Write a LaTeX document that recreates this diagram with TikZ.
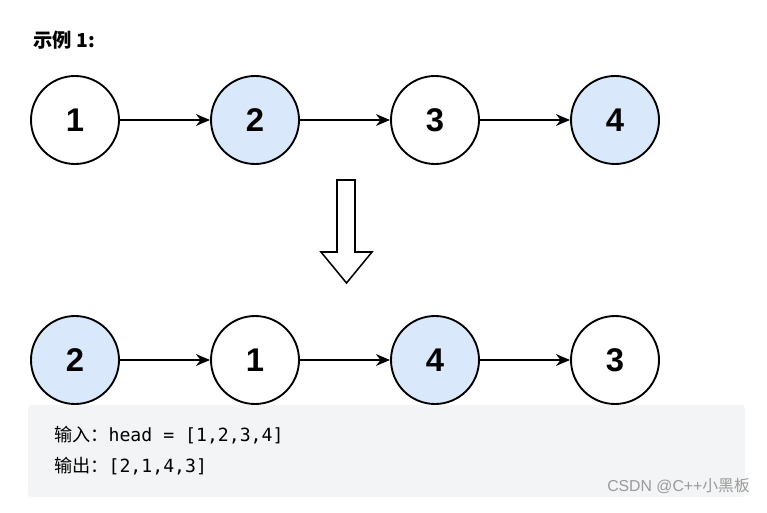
\documentclass[tikz,border=0pt]{standalone}
\usepackage{fontspec}
\setmainfont{Liberation Sans}
\setmonofont{DejaVu Sans Mono}
\newfontfamily\cjk{Noto Sans CJK SC}
\usetikzlibrary{arrows.meta}
\definecolor{nodeblue}{HTML}{DAE8FC}
\definecolor{boxgray}{HTML}{F3F4F5}
\definecolor{markgray}{HTML}{9A9A9A}

\begin{document}
\begin{tikzpicture}[x=0.03cm,y=-0.03cm,>={Stealth[length=12pt,width=10pt]},
 item/.style={draw,circle,line width=1.6pt,minimum size=2.64cm,inner sep=0pt,
 font=\fontsize{28}{28}\selectfont\bfseries},
 hit/.style={item,fill=nodeblue},
 link/.style={->,line width=1.7pt}]
\useasboundingbox (0,0) rectangle (767,513);
\node[anchor=west,font=\cjk\bfseries\fontsize{16.5}{16.5}\selectfont] (title) at (29,40)
 {示例 1:};
% before
\node[item] (a1) at (75,120) {1};
\node[hit] (a2) at (255,120) {2};
\node[item] (a3) at (435,120) {3};
\node[hit] (a4) at (615,120) {4};
\draw[link] (a1)--(a2);
\draw[link] (a2)--(a3);
\draw[link] (a3)--(a4);
% swap arrow
\draw[line width=1.3pt,line join=miter] (337,180) -- (355,180) -- (355,252) -- (372,252)
 -- (346.5,283) -- (321,252) -- (337,252) -- cycle;
% after
\node[hit] (b1) at (75,360) {2};
\node[item] (b2) at (255,360) {1};
\node[hit] (b3) at (435,360) {4};
\node[item] (b4) at (615,360) {3};
\draw[link] (b1)--(b2);
\draw[link] (b2)--(b3);
\draw[link] (b3)--(b4);
\fill[boxgray,rounded corners=3pt] (28,405) rectangle (745,497);
\node[anchor=west,font=\fontsize{15.5}{15.5}\selectfont] (input) at (50,435)
 {{\cjk 输入：}\texttt{head = [1,2,3,4]}};
\node[anchor=west,font=\fontsize{15.5}{15.5}\selectfont] (output) at (50,466)
 {{\cjk 输出：}\texttt{[2,1,4,3]}};
\node[anchor=east,text=markgray,font=\fontsize{13.5}{13.5}\selectfont] (mark) at (754,486)
 {CSDN @C++{\cjk 小黑板}};
\end{tikzpicture}
\end{document}
